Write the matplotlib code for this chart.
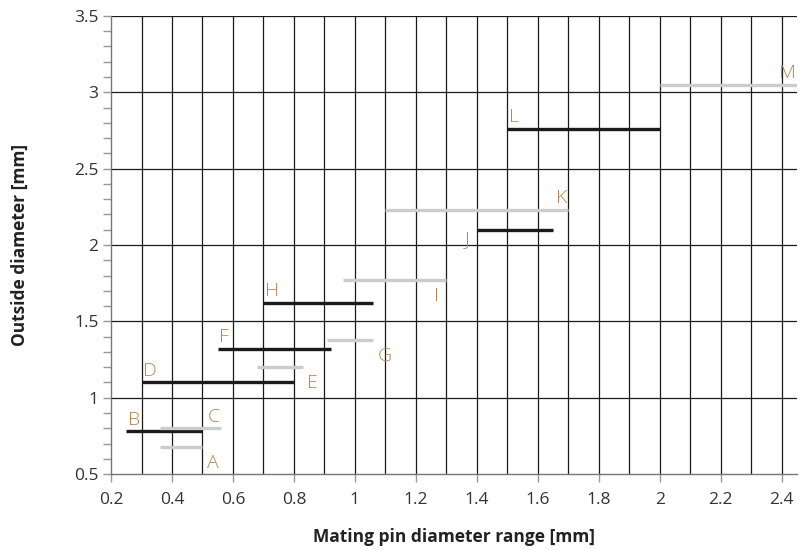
import numpy as np
import matplotlib
matplotlib.use('Agg')
import matplotlib.pyplot as plt
from matplotlib.ticker import MultipleLocator

plt.rcParams['font.family'] = ['Open Sans', 'DejaVu Sans']

# pin diameter ranges and outside diameters
names = ['A', 'B', 'C', 'D', 'E', 'F', 'G', 'H', 'I', 'J', 'K', 'L', 'M']
x_start = [0.36, 0.25, 0.36, 0.30, 0.68, 0.55, 0.91, 0.70, 0.96, 1.40, 1.10, 1.50, 2.00]
x_end = [0.50, 0.50, 0.56, 0.80, 0.83, 0.92, 1.06, 1.06, 1.30, 1.65, 1.70, 2.00, 2.45]
outer_d = [0.68, 0.78, 0.80, 1.10, 1.20, 1.32, 1.38, 1.62, 1.77, 2.10, 2.23, 2.76, 3.05]
is_black = [False, True, False, True, False, True, False, True, False, True, False, True, False]
# where the letter goes relative to the bar
label_side = ['end_below', 'start_above', 'end_above', 'start_above', 'end_below',
              'start_above', 'end_below', 'start_above', 'end_below_in', 'start_left',
              'end_above', 'start_above', 'end_above']

black = '#1a1a1a'
grey = '#c9cdd0'
tan = '#b8864e'

fig = plt.figure(figsize=(8.01, 5.5), dpi=100)
ax = fig.add_axes([0.1386, 0.138, 0.8564, 0.833])

fs_letter = 14
for i in range(len(names)):
    c = black if is_black[i] else grey
    ax.plot([x_start[i], x_end[i]], [outer_d[i], outer_d[i]], color=c, lw=2.4,
            solid_capstyle='butt', zorder=3)
    side = label_side[i]
    kw = dict(textcoords='offset points', color=tan, fontsize=fs_letter, fontweight='light')
    if side == 'end_below':
        ax.annotate(names[i], (x_end[i], outer_d[i]), xytext=(3, -5), ha='left', va='top', **kw)
    elif side == 'end_below_in':
        ax.annotate(names[i], (x_end[i], outer_d[i]), xytext=(-5, -5), ha='right', va='top', **kw)
    elif side == 'end_above':
        ax.annotate(names[i], (x_end[i], outer_d[i]), xytext=(-1, 2), ha='right', va='bottom', **kw)
    elif side == 'start_above':
        ax.annotate(names[i], (x_start[i], outer_d[i]), xytext=(1, 2), ha='left', va='bottom', **kw)
    else:
        ax.annotate(names[i], (x_start[i], outer_d[i]), xytext=(-5, 0), ha='right', va='top', **kw)

ax.set_xlim(0.2, 2.45)
ax.set_ylim(0.5, 3.5)

ax.xaxis.set_major_locator(MultipleLocator(0.2))
ax.xaxis.set_minor_locator(MultipleLocator(0.1))
ax.yaxis.set_major_locator(MultipleLocator(0.5))
ax.yaxis.set_minor_locator(MultipleLocator(0.1))
fmt = matplotlib.ticker.FuncFormatter(lambda v, p: '%g' % round(v, 2))
ax.xaxis.set_major_formatter(fmt)
ax.yaxis.set_major_formatter(fmt)

# vertical grid every 0.1, horizontal every 0.5
for xv in np.arange(0.3, 2.45, 0.1):
    ax.axvline(xv, color=black, lw=0.9, zorder=1)
for yv in np.arange(1.0, 3.51, 0.5):
    ax.axhline(yv, color=black, lw=0.9, zorder=1)

for s in ['top', 'right']:
    ax.spines[s].set_visible(False)
for s in ['left', 'bottom']:
    ax.spines[s].set_color('#777777')
    ax.spines[s].set_linewidth(1.0)

ax.tick_params(axis='x', which='major', direction='out', length=6, width=1, color='#999999',
               labelsize=12.5, labelcolor='#333333', pad=7)
ax.tick_params(axis='x', which='minor', length=0)
ax.tick_params(axis='y', which='both', direction='out', length=6, width=1, color='#999999',
               labelsize=12.5, labelcolor='#333333', pad=3)

ax.set_xlabel('Mating pin diameter range [mm]', fontsize=12.5, fontweight='bold', color='#222222')
ax.set_ylabel('Outside diameter [mm]', fontsize=12.5, fontweight='bold', color='#222222')
ax.xaxis.set_label_coords(0.5, -0.138)
ax.yaxis.set_label_coords(-0.133, 0.5)
ax.xaxis.label.set_va('center')
ax.yaxis.label.set_va('center')

fig.savefig('out.png', dpi=100)
